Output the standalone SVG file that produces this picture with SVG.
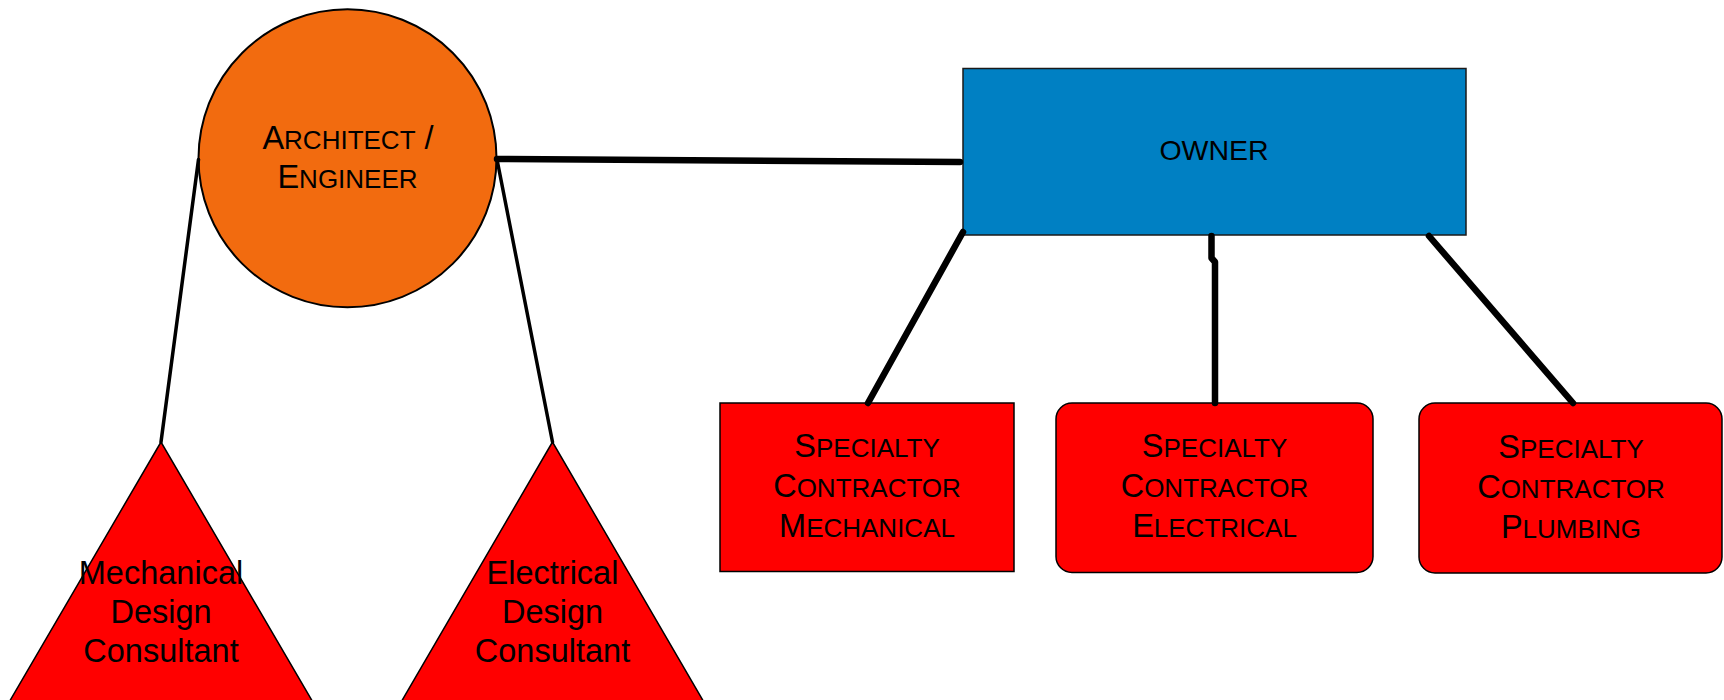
<svg xmlns="http://www.w3.org/2000/svg" width="1724" height="700" viewBox="0 0 1724 700">
  <style>
    .lbl { font-family: "Liberation Sans", Arial, sans-serif; fill: #000; text-anchor: middle; }
    .big { font-size: 32.5px; }
    .sc { font-size: 26px; }
    .red { fill: #FF0000; stroke: #000; stroke-width: 1.5; }
    .thick { fill: none; stroke: #000; stroke-width: 6.5; stroke-linecap: round; stroke-linejoin: round; }
    .thin { fill: none; stroke: #000; stroke-width: 3.5; stroke-linecap: round; }
  </style>
  <rect width="1724" height="700" fill="#FFFFFF"/>

  <!-- nodes -->
  <g id="architect-engineer">
    <circle cx="347.5" cy="158.3" r="149" fill="#F26B0F" stroke="#000" stroke-width="2"/>
    <text class="lbl big" x="348" y="149">A<tspan class="sc">RCHITECT</tspan> /</text>
    <text class="lbl big" x="347.5" y="188">E<tspan class="sc">NGINEER</tspan></text>
  </g>

  <g id="owner">
    <rect x="963" y="68.5" width="503" height="166.5" fill="#0080C3" stroke="#1a1a1a" stroke-width="1.5"/>
    <text class="lbl" x="1214" y="160" font-size="28.5">OWNER</text>
  </g>

  <g id="mechanical-consultant">
    <polygon class="red" stroke-width="1" points="161,442 -6,728 328,728"/>
    <text class="lbl" font-size="32.5" x="161" y="584">Mechanical</text>
    <text class="lbl" font-size="32.5" x="161" y="623">Design</text>
    <text class="lbl" font-size="32.5" x="161" y="662">Consultant</text>
  </g>

  <g id="electrical-consultant">
    <polygon class="red" stroke-width="1" points="552.5,442 386,728 719,728"/>
    <text class="lbl" font-size="32.5" x="552.5" y="584">Electrical</text>
    <text class="lbl" font-size="32.5" x="552.5" y="623">Design</text>
    <text class="lbl" font-size="32.5" x="552.5" y="662">Consultant</text>
  </g>

  <g id="contractor-mechanical">
    <rect class="red" x="720" y="403" width="294" height="168.5"/>
    <text class="lbl big" x="867" y="457">S<tspan class="sc">PECIALTY</tspan></text>
    <text class="lbl big" x="867" y="497">C<tspan class="sc">ONTRACTOR</tspan></text>
    <text class="lbl big" x="867" y="537">M<tspan class="sc">ECHANICAL</tspan></text>
  </g>

  <g id="contractor-electrical">
    <rect class="red" x="1056" y="403" width="317" height="169.5" rx="16" ry="16"/>
    <text class="lbl big" x="1214.5" y="457">S<tspan class="sc">PECIALTY</tspan></text>
    <text class="lbl big" x="1214.5" y="497">C<tspan class="sc">ONTRACTOR</tspan></text>
    <text class="lbl big" x="1214.5" y="537">E<tspan class="sc">LECTRICAL</tspan></text>
  </g>

  <g id="contractor-plumbing">
    <rect class="red" x="1419" y="403" width="303" height="170" rx="16" ry="16"/>
    <text class="lbl big" x="1571" y="458">S<tspan class="sc">PECIALTY</tspan></text>
    <text class="lbl big" x="1571" y="498">C<tspan class="sc">ONTRACTOR</tspan></text>
    <text class="lbl big" x="1571" y="538">P<tspan class="sc">LUMBING</tspan></text>
  </g>

  <!-- connectors -->
  <g id="connectors">
    <line class="thick" x1="497" y1="159" x2="960" y2="162"/>
    <line class="thin" x1="198.5" y1="159.5" x2="161" y2="442"/>
    <line class="thin" x1="497" y1="159.5" x2="552.5" y2="442"/>
    <line class="thick" x1="963" y1="232" x2="868" y2="403"/>
    <path class="thick" d="M1211.5 236 L1211.5 258 L1215 262 L1215 403"/>
    <line class="thick" x1="1429" y1="236" x2="1573" y2="403"/>
  </g>
</svg>
